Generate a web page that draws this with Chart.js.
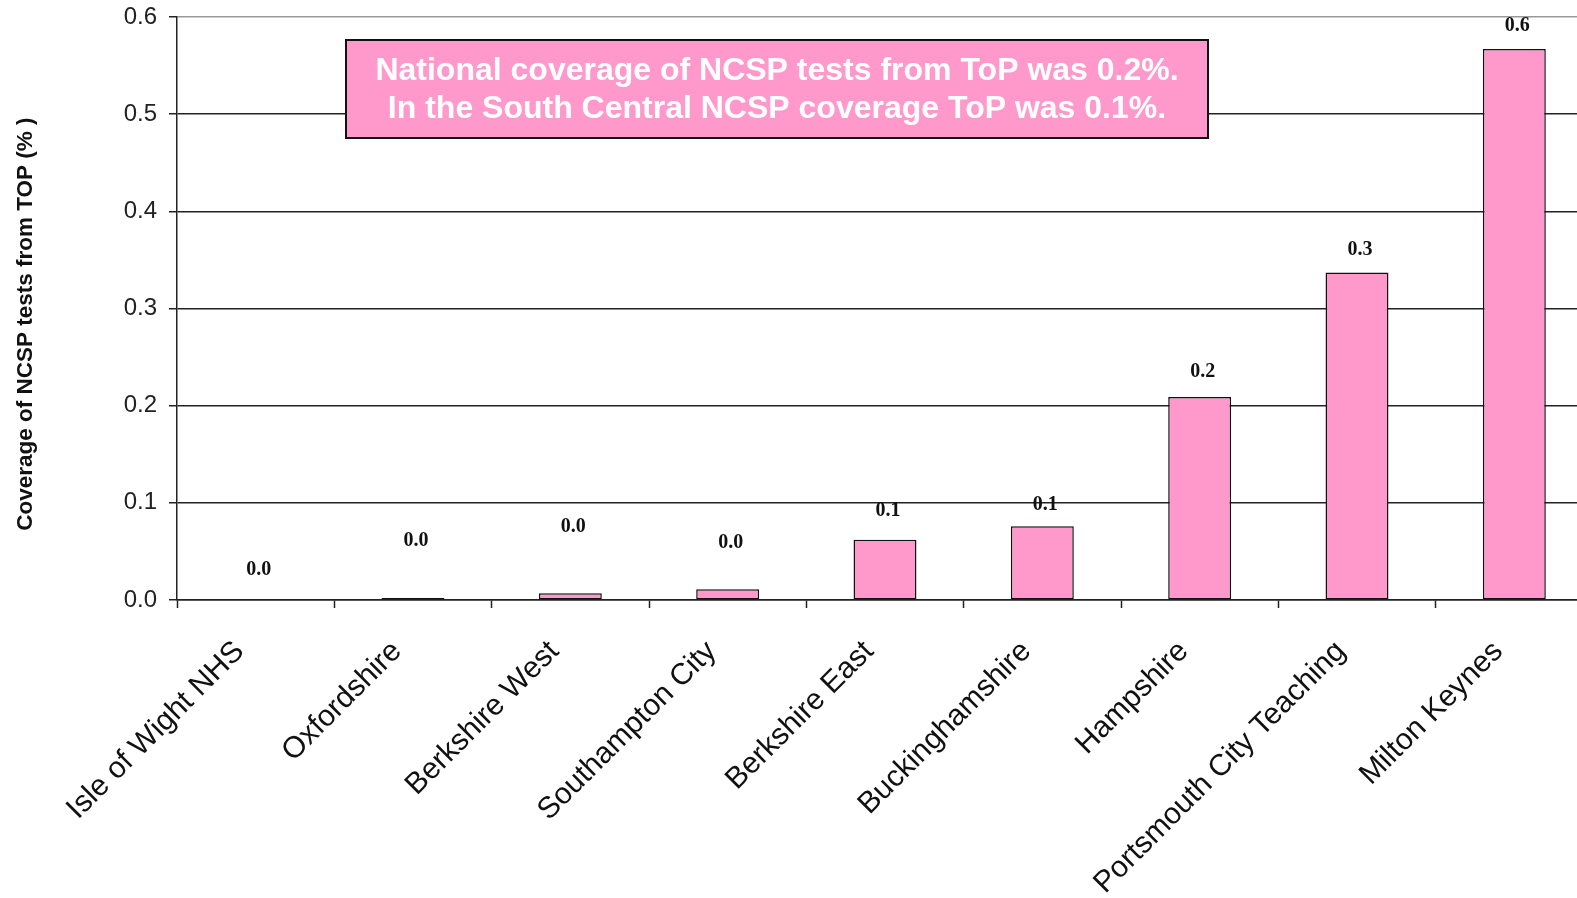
<!DOCTYPE html>
<html>
<head>
<meta charset="utf-8">
<script src="https://cdn.jsdelivr.net/npm/chart.js@4/dist/chart.umd.min.js"></script>
<style>
    html, body { margin: 0; padding: 0; background: #fff; overflow: hidden; }
    #wrap { width: 1577px; height: 898px; overflow: hidden; }
</style>
</head>
<body>
<div id="wrap">
    <canvas id="topChart" width="1593" height="898"></canvas>
</div>
<script>
// Площади (PCT) и охват тестами NCSP от ToP, %
const areas = [
    'Isle of Wight NHS', 'Oxfordshire', 'Berkshire West', 'Southampton City',
    'Berkshire East', 'Buckinghamshire', 'Hampshire', 'Portsmouth City Teaching', 'Milton Keynes'
];
const coverage = [0.0, 0.002, 0.007, 0.011, 0.062, 0.076, 0.209, 0.337, 0.567];
const yTicks = [0.0, 0.1, 0.2, 0.3, 0.4, 0.5, 0.6];
const noteLines = [
    'National coverage of NCSP tests from ToP was 0.2%.',
    'In the South Central NCSP coverage ToP was 0.1%.'
];

// подписи над столбцами сдвинуты вручную, как в оригинале (px)
const labelLift = [30, 57, 66, 46, 29, 21, 25, 23, 23];

const barLabels = {
    id: 'barLabels',
    afterDatasetsDraw(chart) {
        const ctx = chart.ctx;
        const meta = chart.getDatasetMeta(0);
        ctx.save();
        ctx.font = 'bold 20px "Liberation Serif", "Times New Roman", serif';
        ctx.fillStyle = '#111';
        ctx.textAlign = 'center';
        ctx.textBaseline = 'middle';
        meta.data.forEach((bar, i) => {
            ctx.fillText(coverage[i].toFixed(1), bar.x + 3, bar.y - labelLift[i]);
        });
        ctx.restore();
    }
};

const noteBox = {
    id: 'noteBox',
    afterDatasetsDraw(chart) {
        const ctx = chart.ctx;
        const a = chart.chartArea;
        const x = a.left + 169, y = a.top + 23, w = 862, h = 98;
        ctx.save();
        ctx.fillStyle = '#FF99CC';
        ctx.fillRect(x, y, w, h);
        ctx.strokeStyle = '#111';
        ctx.lineWidth = 2;
        ctx.strokeRect(x, y, w, h);
        ctx.fillStyle = '#fff';
        ctx.font = 'bold 32px "Liberation Sans", Arial, sans-serif';
        ctx.textAlign = 'center';
        ctx.textBaseline = 'middle';
        ctx.fillText(noteLines[0], x + w / 2, y + 31);
        ctx.fillText(noteLines[1], x + w / 2, y + 69);
        ctx.restore();
    }
};

const ctx = document.getElementById('topChart').getContext('2d');
new Chart(ctx, {
    type: 'bar',
    data: {
        labels: areas,
        datasets: [{
            data: coverage,
            backgroundColor: '#FF99CC',
            borderColor: '#111',
            borderWidth: 1.5,
            borderSkipped: false,
            barPercentage: 0.4,
            categoryPercentage: 1.0
        }]
    },
    options: {
        responsive: false,
        animation: false,
        layout: { padding: { top: 17, left: 0, right: 0, bottom: 0 } },
        plugins: {
            legend: { display: false },
            tooltip: { enabled: false }
        },
        scales: {
            x: {
                offset: true,
                grid: {
                    offset: true,
                    drawOnChartArea: false,
                    drawTicks: true,
                    tickLength: 8,
                    tickColor: '#222',
                    tickWidth: 1.5
                },
                border: { color: '#222', width: 1.5 },
                ticks: {
                    autoSkip: false,
                    minRotation: 45,
                    maxRotation: 45,
                    padding: 26,
                    labelOffset: -16,
                    color: '#111',
                    font: { family: '"Liberation Sans", Arial, sans-serif', size: 30 }
                },
                afterFit(scale) { scale.height = 298; }
            },
            y: {
                min: 0,
                max: 0.6,
                afterBuildTicks(scale) { scale.ticks = yTicks.map(v => ({ value: v })); },
                grid: {
                    color: (c) => (c.tick && c.tick.value === 0.6 ? '#999' : '#222'),
                    lineWidth: 1.5,
                    tickLength: 8,
                    tickColor: '#222'
                },
                border: { color: '#222', width: 1.5 },
                ticks: {
                    padding: 12,
                    color: '#222',
                    font: { family: '"Liberation Sans", Arial, sans-serif', size: 24 },
                    callback: (v) => Number(v).toFixed(1)
                },
                title: {
                    display: true,
                    // хвостовые пробелы опускают подпись ниже центра, как в оригинале
                    text: 'Coverage of NCSP tests from TOP (% )     ',
                    color: '#111',
                    font: { family: '"Liberation Sans", Arial, sans-serif', size: 22.5, weight: 'bold' },
                    padding: { top: 12, bottom: 0 }
                },
                afterFit(scale) {
                    scale.width = 177;
                    // верх области графика задаёт layout.padding
                    scale.paddingTop = 0;
                    scale.paddingBottom = 0;
                }
            }
        }
    },
    plugins: [barLabels, noteBox]
});
</script>
</body>
</html>
